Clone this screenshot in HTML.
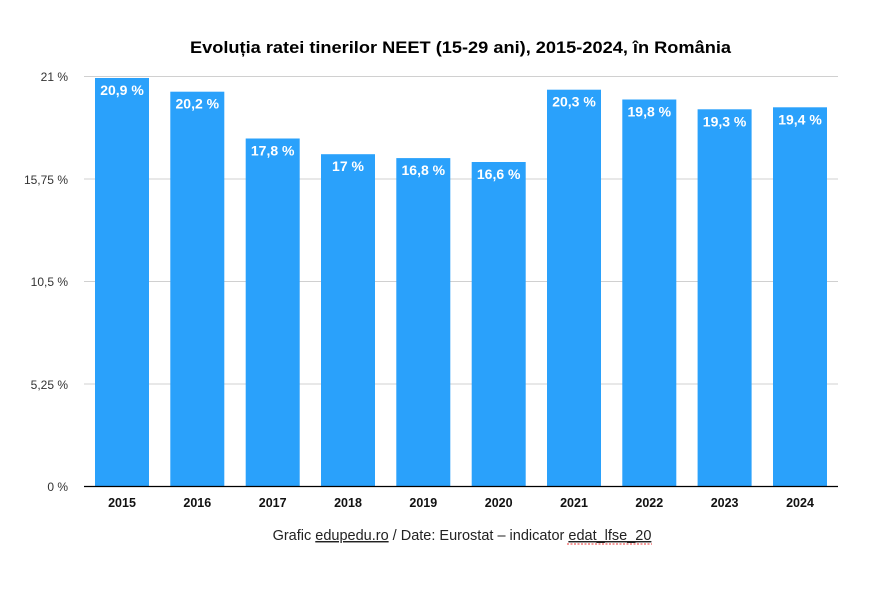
<!DOCTYPE html>
<html><head><meta charset="utf-8"><style>
body{margin:0;background:#fff;width:885px;height:593px;overflow:hidden}
</style></head><body>
<svg width="885" height="593" xmlns="http://www.w3.org/2000/svg" font-family="Liberation Sans, sans-serif">
<text x="190" y="53" textLength="541" lengthAdjust="spacingAndGlyphs" font-size="17" font-weight="bold" fill="#000">Evoluția ratei tinerilor NEET (15-29 ani), 2015-2024, în România</text>
<g stroke="#d0d0d0" stroke-width="1">
<line x1="84" x2="838" y1="76.5" y2="76.5"/>
<line x1="84" x2="838" y1="179" y2="179"/>
<line x1="84" x2="838" y1="281.5" y2="281.5"/>
<line x1="84" x2="838" y1="384" y2="384"/>
</g>
<g font-size="12" fill="#333" text-anchor="end">
<text x="68" y="81">21 %</text>
<text x="68" y="184">15,75 %</text>
<text x="68" y="286">10,5 %</text>
<text x="68" y="389">5,25 %</text>
<text x="68" y="491">0 %</text>
</g>
<g fill="#2aa1fb">
<rect x="95" y="78" width="54" height="408"/>
<rect x="170.3" y="91.7" width="54" height="394.3"/>
<rect x="245.7" y="138.5" width="54" height="347.5"/>
<rect x="321" y="154.2" width="54" height="331.8"/>
<rect x="396.3" y="158.1" width="54" height="327.9"/>
<rect x="471.7" y="162" width="54" height="324"/>
<rect x="547" y="89.7" width="54" height="396.3"/>
<rect x="622.3" y="99.5" width="54" height="386.5"/>
<rect x="697.6" y="109.3" width="54" height="376.7"/>
<rect x="773" y="107.3" width="54" height="378.7"/>
</g>
<g font-size="14" font-weight="bold" fill="#fff" text-anchor="middle">
<text x="122" y="95">20,9 %</text>
<text x="197.3" y="108.7">20,2 %</text>
<text x="272.7" y="155.5">17,8 %</text>
<text x="348" y="171.2">17 %</text>
<text x="423.3" y="175.1">16,8 %</text>
<text x="498.7" y="179">16,6 %</text>
<text x="574" y="106.7">20,3 %</text>
<text x="649.3" y="116.5">19,8 %</text>
<text x="724.6" y="126.3">19,3 %</text>
<text x="800" y="124.3">19,4 %</text>
</g>
<g font-size="12.5" font-weight="bold" fill="#111" text-anchor="middle">
<text x="122" y="507">2015</text>
<text x="197.3" y="507">2016</text>
<text x="272.7" y="507">2017</text>
<text x="348" y="507">2018</text>
<text x="423.3" y="507">2019</text>
<text x="498.7" y="507">2020</text>
<text x="574" y="507">2021</text>
<text x="649.3" y="507">2022</text>
<text x="724.6" y="507">2023</text>
<text x="800" y="507">2024</text>
</g>
<line x1="84" x2="838" y1="486.5" y2="486.5" stroke="#000" stroke-width="1.2"/>
<text x="462" y="540" text-anchor="middle" font-size="14.5" fill="#222">Grafic <tspan text-decoration="underline">edupedu.ro</tspan> / Date: Eurostat – indicator <tspan text-decoration="underline">edat_lfse_20</tspan></text>
<line x1="567" x2="652" y1="544" y2="544" stroke="#e33" stroke-width="1" stroke-dasharray="2,1.5"/>
</svg>
</body></html>
